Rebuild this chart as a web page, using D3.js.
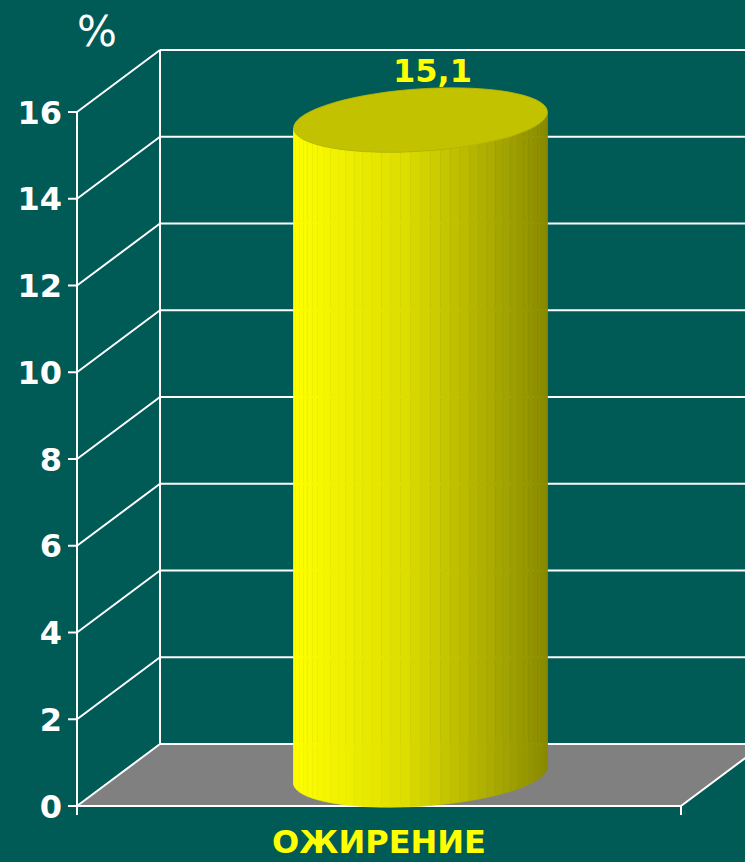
<!DOCTYPE html>
<html><head><meta charset="utf-8">
<script src="https://cdn.jsdelivr.net/npm/d3@7"></script>
<style>html,body{margin:0;padding:0;background:#005a56;}svg{display:block;}</style>
</head><body>
<script>
const categories = ["ОЖИРЕНИЕ"];
const values = [15.1];
const valueLabels = ["15,1"];
const yTicks = [0, 2, 4, 6, 8, 10, 12, 14, 16];
const unitLabel = "%";

const W = 745, H = 862;
const dx = 83, dy = -62;
const svg = d3.select("body").append("svg").attr("width", W).attr("height", H);
svg.append("rect").attr("width", W).attr("height", H).attr("fill", "#005a56");

const y = d3.scaleLinear().domain([0, 16]).range([806, 112]);
const x = d3.scaleBand().domain(categories).range([77, 681]).padding(0);
const x0 = x.range()[0], x1 = x.range()[1];

// floor
svg.append("path")
  .attr("d", `M${x0},${y(0)}L${x0+dx},${y(0)+dy}L${x1+dx},${y(0)+dy}L${x1},${y(0)}Z`)
  .attr("fill", "#808080");

const grid = svg.append("g").attr("stroke", "#fff").attr("stroke-width", 2).attr("fill", "none");
yTicks.forEach(t => {
  const yy = y(t);
  grid.append("line").attr("x1", x0).attr("y1", yy).attr("x2", x0 + dx).attr("y2", yy + dy);
  grid.append("line").attr("x1", x0 + dx).attr("y1", yy + dy).attr("x2", x1 + dx).attr("y2", yy + dy);
  grid.append("line").attr("x1", x0 - 9).attr("y1", yy).attr("x2", x0).attr("y2", yy);
});
grid.append("line").attr("x1", x0).attr("y1", y(16)).attr("x2", x0).attr("y2", y(0) + 9);
grid.append("line").attr("x1", x0 + dx).attr("y1", y(16) + dy).attr("x2", x0 + dx).attr("y2", y(0) + dy);
grid.append("line").attr("x1", x0).attr("y1", y(0)).attr("x2", x1).attr("y2", y(0));
grid.append("line").attr("x1", x1).attr("y1", y(0)).attr("x2", x1).attr("y2", y(0) + 9);
grid.append("line").attr("x1", x1).attr("y1", y(0)).attr("x2", x1 + dx).attr("y2", y(0) + dy);

// tick labels
svg.append("g").selectAll("text").data(yTicks).join("text")
  .attr("x", 62).attr("y", d => y(d)).attr("dy", "0.36em")
  .attr("text-anchor", "end").attr("fill", "#fff")
  .attr("font-family", "DejaVu Sans").attr("font-weight", "bold").attr("font-size", 32)
  .text(d => d);

svg.append("text").attr("x", 97).attr("y", 46).attr("text-anchor", "middle")
  .attr("fill", "#fff").attr("font-family", "DejaVu Sans").attr("font-size", 42).text(unitLabel);

// cylinder
const color = d3.scaleLinear().domain([0, 0.45, 1]).range(["#ffff00", "#dcdc00", "#8a8a00"]);
categories.forEach((c, i) => {
  const v = values[i];
  const cx0 = x(c) + x.bandwidth() / 2 + dx * 0.5;
  const cyTop = y(v) + dy * 0.5, cyBot = y(0) + dy * 0.5;
  const a = x.bandwidth() * 0.2036;
  const bx = 0.38 * dx, byv = 0.52 * dy;
  const pt = (t, cy) => [cx0 + a * Math.cos(t) + bx * Math.sin(t), cy + byv * Math.sin(t)];
  const ts = Math.atan2(bx, a);
  const tStart = ts - Math.PI, tEnd = ts;
  const N = 40;
  const xl = pt(tStart, 0)[0], xr = pt(tEnd, 0)[0];
  const g = svg.append("g");
  for (let k = 0; k < N; k++) {
    const ta = tStart + (tEnd - tStart) * k / N, tb = tStart + (tEnd - tStart) * (k + 1) / N;
    const p1 = pt(ta, cyTop), p2 = pt(tb, cyTop), p3 = pt(tb, cyBot), p4 = pt(ta, cyBot);
    const f = ((p1[0] + p2[0]) / 2 - xl) / (xr - xl);
    const col = color(f);
    g.append("path").attr("d", `M${p1}L${p2}L${p3}L${p4}Z`).attr("fill", col).attr("stroke", col).attr("stroke-width", 0.6);
  }
  const ell = d3.range(0, 73).map(k => pt(k / 72 * 2 * Math.PI, cyTop));
  g.append("path").attr("d", d3.line()(ell) + "Z").attr("fill", "#c2c200").attr("stroke", "#b8b800").attr("stroke-width", 0.8);

  svg.append("text").attr("x", cx0 + 12).attr("y", y(v) + dy * 0.5 - 38)
    .attr("text-anchor", "middle").attr("fill", "#ffff00")
    .attr("font-family", "DejaVu Sans").attr("font-weight", "bold").attr("font-size", 32)
    .text(valueLabels[i]);
});

// category label
svg.append("g").selectAll("text").data(categories).join("text")
  .attr("x", d => x(d) + x.bandwidth() / 2).attr("y", 853)
  .attr("text-anchor", "middle").attr("fill", "#ffff00")
  .attr("font-family", "DejaVu Sans").attr("font-weight", "bold").attr("font-size", 32)
  .text(d => d);
</script>
</body></html>
